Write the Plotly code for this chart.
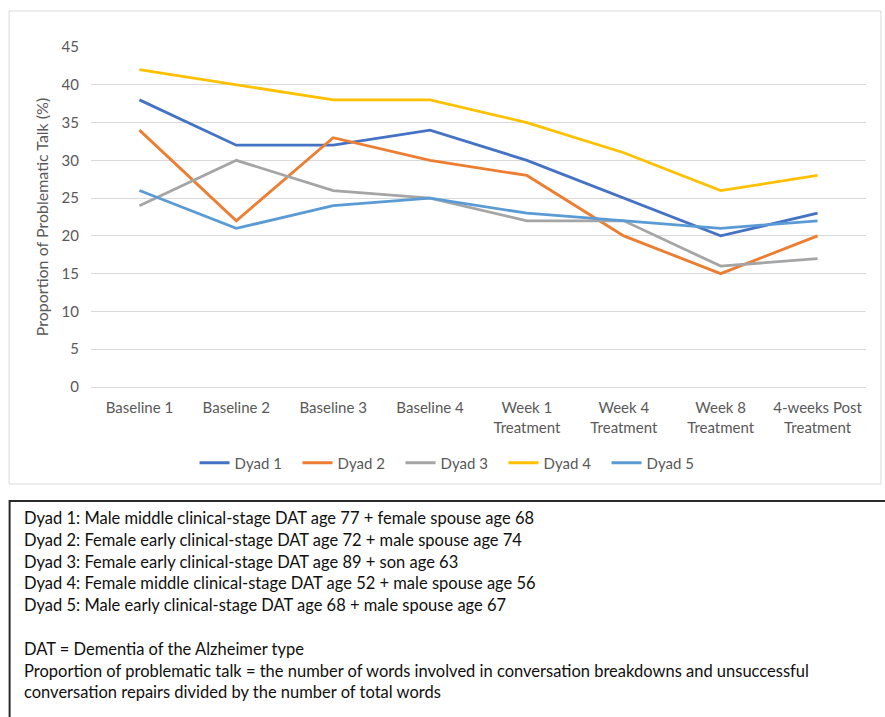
import plotly.graph_objects as go

# Session labels along the x axis
sessions = [
    "Baseline 1", "Baseline 2", "Baseline 3", "Baseline 4",
    "Week 1<br>Treatment", "Week 4<br>Treatment", "Week 8<br>Treatment",
    "4-weeks Post<br>Treatment",
]

# Proportion of problematic talk (%) per dyad
dyad_1 = [38, 32, 32, 34, 30, 25, 20, 23]
dyad_2 = [34, 22, 33, 30, 28, 20, 15, 20]
dyad_3 = [24, 30, 26, 25, 22, 22, 16, 17]
dyad_4 = [42, 40, 38, 38, 35, 31, 26, 28]
dyad_5 = [26, 21, 24, 25, 23, 22, 21, 22]

series_names = ["Dyad 1", "Dyad 2", "Dyad 3", "Dyad 4", "Dyad 5"]
series_values = [dyad_1, dyad_2, dyad_3, dyad_4, dyad_5]
series_colors = ["#4472C4", "#ED7D31", "#A5A5A5", "#FFC000", "#5B9BD5"]

y_ticks = [0, 5, 10, 15, 20, 25, 30, 35, 40, 45]

notes = [
    "Dyad 1: Male middle clinical-stage DAT age 77 + female spouse age 68",
    "Dyad 2: Female early clinical-stage DAT age 72 + male spouse age 74",
    "Dyad 3: Female early clinical-stage DAT age 89 + son age 63",
    "Dyad 4: Female middle clinical-stage DAT age 52 + male spouse age 56",
    "Dyad 5: Male early clinical-stage DAT age 68 + male spouse age 67",
    "",
    "DAT = Dementia of the Alzheimer type",
    "Proportion of problematic talk = the number of words involved in conversation breakdowns and unsuccessful",
    "conversation repairs divided by the number of total words",
]

W, H = 885, 717
L, R, T, B = 90.5, 18.5, 47, 330
PW, PH = W - L - R, H - T - B


def px_x(px):
    return (px - L) / PW


def px_y(py):
    return (H - B - py) / PH


FONT = "Lato, Carlito, sans-serif"

fig = go.Figure()
for name, vals, col in zip(series_names, series_values, series_colors):
    fig.add_trace(go.Scatter(
        x=sessions, y=vals, name=name, mode="lines",
        line=dict(color=col, width=2.8),
    ))

tick_font = dict(family=FONT, size=15, color="#595959")

fig.update_layout(
    width=W, height=H,
    margin=dict(l=L, r=R, t=T, b=B, autoexpand=False),
    paper_bgcolor="white", plot_bgcolor="white",
    font=tick_font,
    showlegend=True,
    legend=dict(
        orientation="h", x=px_x(452), xanchor="center",
        y=px_y(463), yanchor="middle",
        font=dict(family=FONT, size=15, color="#595959"),
        entrywidth=58, entrywidthmode="pixels",
        bgcolor="rgba(0,0,0,0)",
    ),
    xaxis=dict(
        type="category", range=[-0.5, len(sessions) - 0.5],
        showgrid=False, showline=False, zeroline=False, automargin=False,
        ticks="", tickfont=tick_font, ticklabelstandoff=10,
    ),
    yaxis=dict(
        range=[0, 45], tickvals=y_ticks, showgrid=True, automargin=False,
        gridcolor="#D9D9D9", gridwidth=1, zeroline=True,
        zerolinecolor="#D9D9D9", zerolinewidth=1, showline=False,
        ticks="", tickfont=tick_font, ticklabelstandoff=11,
        title=dict(text="Proportion of Problematic Talk (%)",
                   font=dict(family=FONT, size=16, color="#595959"),
                   standoff=8),
    ),
)

# Chart frame
fig.add_shape(type="rect", xref="paper", yref="paper",
              x0=px_x(8.5), x1=px_x(881.5), y0=px_y(484), y1=px_y(11),
              line=dict(color="#D9D9D9", width=1), layer="below")

# Notes box below the chart
fig.add_shape(type="rect", xref="paper", yref="paper",
              x0=px_x(9), x1=px_x(890), y0=px_y(725), y1=px_y(501),
              line=dict(color="#2B2B2B", width=2), layer="above")

note_y0, note_step = 518, 21.8
for i, txt in enumerate(notes):
    if not txt:
        continue
    fig.add_annotation(
        xref="paper", yref="paper", x=px_x(21), y=px_y(note_y0 + i * note_step),
        xanchor="left", yanchor="middle", showarrow=False, text=txt,
        font=dict(family=FONT, size=16.5, color="#101010"),
    )

fig.write_html("out.html")
